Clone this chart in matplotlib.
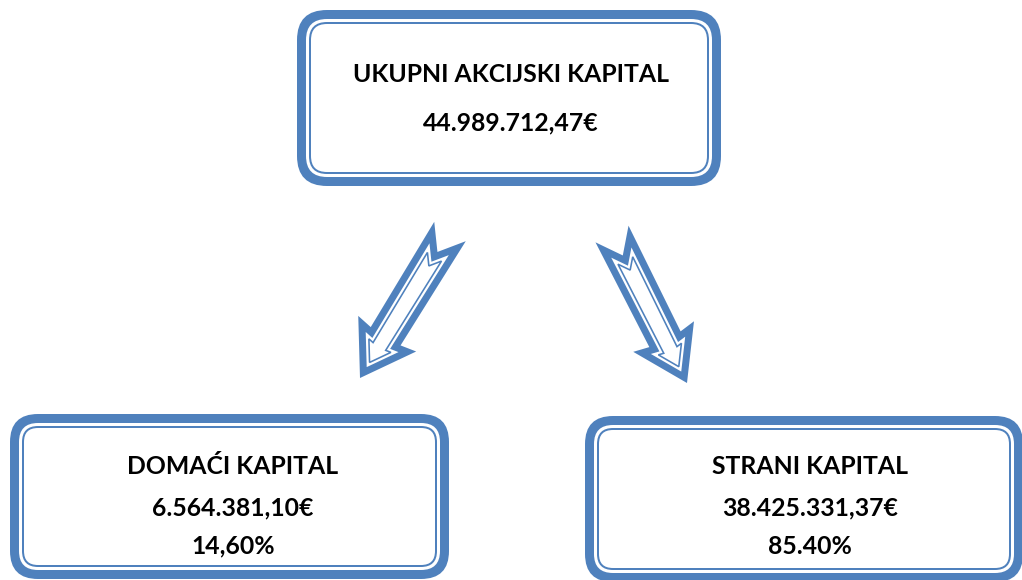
import matplotlib
matplotlib.use("Agg")
import matplotlib.pyplot as plt
from matplotlib.patches import FancyBboxPatch, Polygon
import numpy as np

# text of the diagram
total_label = "UKUPNI AKCIJSKI KAPITAL"
total_value = "44.989.712,47€"
part_labels = ["DOMAĆI KAPITAL", "STRANI KAPITAL"]
part_values = ["6.564.381,10€", "38.425.331,37€"]
part_shares = ["14,60%", "85.40%"]

BLUE = "#4F81BD"
W, H = 1022, 580

fig = plt.figure(figsize=(W / 100, H / 100), dpi=100)
ax = fig.add_axes([0, 0, 1, 1])
ax.set_xlim(0, W)
ax.set_ylim(H, 0)
ax.set_aspect("auto")
ax.axis("off")

px = 72 / 100  # points per pixel


def double_box(x0, y0, x1, y1, r=30):
    # thick outer band, white gap, thin inner line
    ax.add_patch(FancyBboxPatch((x0, y0), x1 - x0, y1 - y0,
                                boxstyle=f"round,pad=0,rounding_size={r}",
                                fc=BLUE, ec="none"))
    d = 9
    ax.add_patch(FancyBboxPatch((x0 + d, y0 + d), x1 - x0 - 2 * d, y1 - y0 - 2 * d,
                                boxstyle=f"round,pad=0,rounding_size={r - d}",
                                fc="white", ec="none"))
    d = 13
    ax.add_patch(FancyBboxPatch((x0 + d, y0 + d), x1 - x0 - 2 * d, y1 - y0 - 2 * d,
                                boxstyle=f"round,pad=0,rounding_size={max(r - d, 4)}",
                                fc="none", ec=BLUE, lw=2 * px))


def inset(pts, d):
    pts = np.asarray(pts, float)
    n = len(pts)
    area = 0.5 * np.sum(pts[:, 0] * np.roll(pts[:, 1], -1) - np.roll(pts[:, 0], -1) * pts[:, 1])
    sign = 1 if area > 0 else -1
    lines = []
    for i in range(n):
        p, q = pts[i], pts[(i + 1) % n]
        t = (q - p) / np.linalg.norm(q - p)
        nrm = sign * np.array([-t[1], t[0]])
        lines.append((p + d * nrm, t))
    out = []
    for i in range(n):
        (p1, t1), (p2, t2) = lines[i - 1], lines[i]
        A = np.array([t1, -t2]).T
        s = np.linalg.solve(A, p2 - p1)
        out.append(p1 + s[0] * t1)
    return np.array(out)


def notched_arrow(tail, tip, hl=52, hw=34, sw=17.5, tw=18.5, nd=24):
    tail, tip = np.array(tail, float), np.array(tip, float)
    L = np.linalg.norm(tip - tail)
    dvec = (tip - tail) / L
    nvec = np.array([-dvec[1], dvec[0]])
    local = [(0, tw), (L - hl + 3, sw), (L - hl, hw), (L, 0),
             (L - hl, -hw), (L - hl + 3, -sw), (0, -tw), (nd, 0)]
    pts = np.array([tail + u * dvec + v * nvec for u, v in local])
    ax.add_patch(Polygon(pts, closed=True, fc=BLUE, ec="none"))
    ax.add_patch(Polygon(inset(pts, 7), closed=True, fc="white", ec="none"))
    ax.add_patch(Polygon(inset(pts, 10), closed=True, fc="white", ec=BLUE, lw=1.6 * px))


# boxes
double_box(297, 10, 721, 186)
double_box(10, 414, 449, 579, r=28)
double_box(585, 416, 1023, 582, r=28)

# arrows
notched_arrow((450, 231.5), (360, 378))
notched_arrow((612, 234), (687, 383))

font = dict(family=["Lato", "DejaVu Sans"], fontweight="bold", color="black",
            ha="center", va="center")
fs = 17.8
ax.text(511, 75, total_label, fontsize=fs, **font)
ax.text(511, 123, total_value, fontsize=fs, **font)

centers = [233, 810]
for cx, lab, val, sh in zip(centers, part_labels, part_values, part_shares):
    ax.text(cx, 467, lab, fontsize=fs, **font)
    ax.text(cx, 508, val, fontsize=fs, **font)
    ax.text(cx, 546, sh, fontsize=fs, **font)

fig.savefig("out.png", dpi=100)
